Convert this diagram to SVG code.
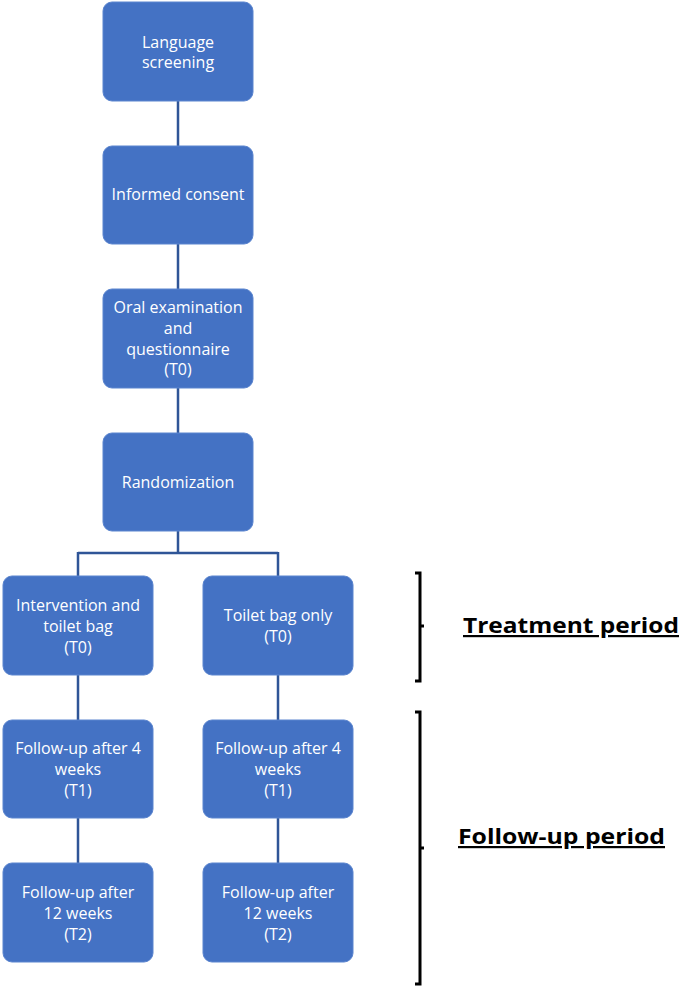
<svg xmlns="http://www.w3.org/2000/svg" width="680" height="987" viewBox="0 0 680 987">
<style>
.box{fill:#4472C4;stroke:#5B85CF;stroke-width:1}
.t{font-family:"Open Sans","Liberation Sans",Arial,sans-serif;font-size:16px;fill:#ffffff;text-anchor:middle}
.c{fill:none;stroke:#2F5597;stroke-width:2.5}
.br{fill:none;stroke:#000;stroke-width:3;stroke-linejoin:miter}
.lab{font-family:"Open Sans","Liberation Sans",Arial,sans-serif;font-size:22px;font-weight:bold;fill:#000;text-decoration:underline}
</style>
<rect width="680" height="987" fill="#ffffff"/>
<g id="connectors">
<path class="c" d="M178 101V146M178 244V289M178 388V433M178 531V553M78 553H278M78 552V576M278 552V576M78 675V720M278 675V720M78 818V863M278 818V863"/>
</g>
<g id="n1"><rect class="box" x="103" y="2" width="150" height="99" rx="9"/><text class="t" x="178" y="48">Language</text><text class="t" x="178" y="68">screening</text></g>
<g id="n2"><rect class="box" x="103" y="146" width="150" height="98" rx="9"/><text class="t" x="178" y="200">Informed consent</text></g>
<g id="n3"><rect class="box" x="103" y="289" width="150" height="99" rx="9"/><text class="t" x="178" y="313">Oral examination</text><text class="t" x="178" y="334">and</text><text class="t" x="178" y="355">questionnaire</text><text class="t" x="178" y="375">(T0)</text></g>
<g id="n4"><rect class="box" x="103" y="433" width="150" height="98" rx="9"/><text class="t" x="178" y="488">Randomization</text></g>
<g id="n5"><rect class="box" x="3" y="576" width="150" height="99" rx="9"/><text class="t" x="78" y="611">Intervention and</text><text class="t" x="78" y="632">toilet bag</text><text class="t" x="78" y="653">(T0)</text></g>
<g id="n6"><rect class="box" x="203" y="576" width="150" height="99" rx="9"/><text class="t" x="278" y="621">Toilet bag only</text><text class="t" x="278" y="642">(T0)</text></g>
<g id="n7"><rect class="box" x="3" y="720" width="150" height="98" rx="9"/><text class="t" x="78" y="754">Follow-up after 4</text><text class="t" x="78" y="775">weeks</text><text class="t" x="78" y="796">(T1)</text></g>
<g id="n8"><rect class="box" x="203" y="720" width="150" height="98" rx="9"/><text class="t" x="278" y="754">Follow-up after 4</text><text class="t" x="278" y="775">weeks</text><text class="t" x="278" y="796">(T1)</text></g>
<g id="n9"><rect class="box" x="3" y="863" width="150" height="99" rx="9"/><text class="t" x="78" y="898">Follow-up after</text><text class="t" x="78" y="919">12 weeks</text><text class="t" x="78" y="940">(T2)</text></g>
<g id="n10"><rect class="box" x="203" y="863" width="150" height="99" rx="9"/><text class="t" x="278" y="898">Follow-up after</text><text class="t" x="278" y="919">12 weeks</text><text class="t" x="278" y="940">(T2)</text></g>
<g id="treatment">
<path class="br" d="M415 573H420V681H415M420 626H424"/>
<text class="lab" x="463" y="633" textLength="216" lengthAdjust="spacingAndGlyphs">Treatment period</text>
</g>
<g id="followup">
<path class="br" d="M415 712H420V984H415M420 848H424"/>
<text class="lab" x="458" y="844" textLength="207" lengthAdjust="spacingAndGlyphs">Follow-up period</text>
</g>
</svg>
